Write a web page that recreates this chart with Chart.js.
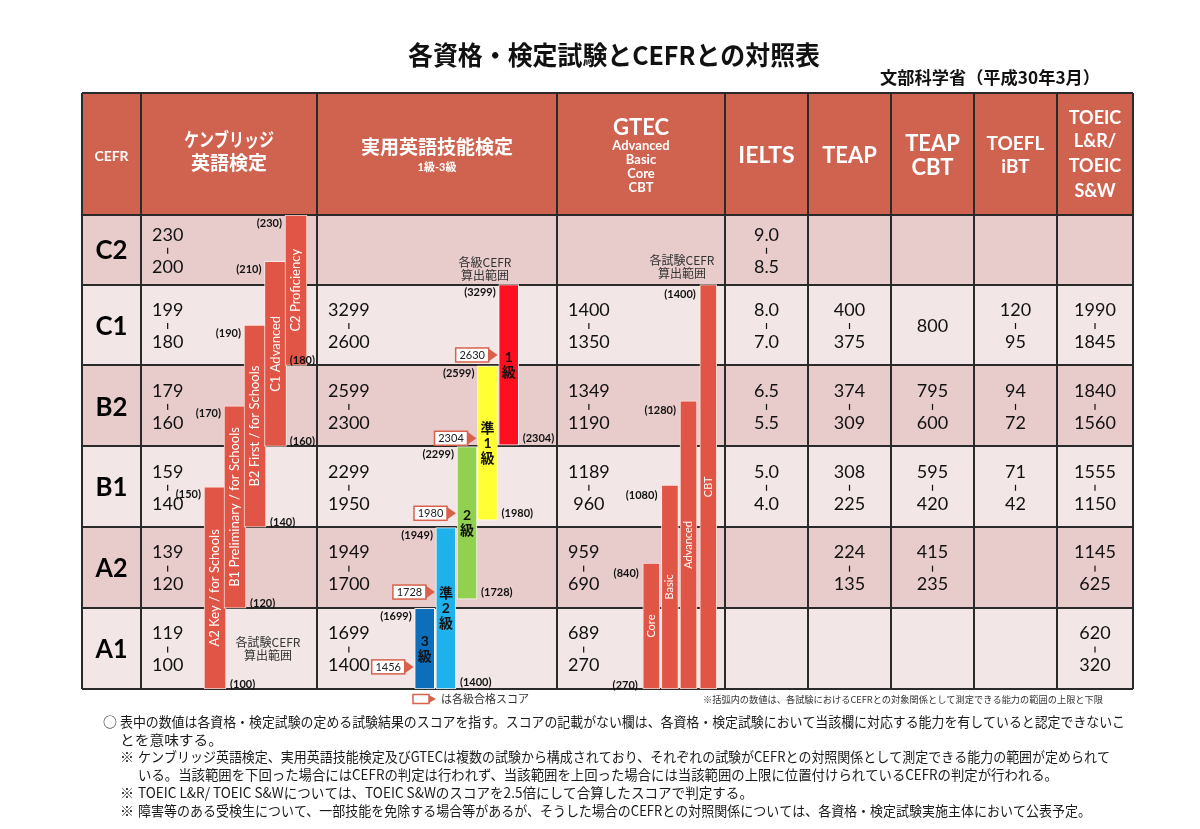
<!DOCTYPE html>
<html>
<head>
<meta charset="utf-8">
<title>各資格・検定試験とCEFRとの対照表</title>
<script src="https://cdn.jsdelivr.net/npm/chart.js"></script>
<style>
    html, body { margin: 0; padding: 0; background: #fff; }
    canvas { display: block; }
</style>
</head>
<body>
<canvas id="cefr-chart" width="1200" height="829"></canvas>
<script>
// ===== データ =====
const cefrLevels = ['C2', 'C1', 'B2', 'B1', 'A2', 'A1'];

// 各列のスコア（上から C2 → A1、null は空欄）
const cambridgeRanges = [['230', '200'], ['199', '180'], ['179', '160'], ['159', '140'], ['139', '120'], ['119', '100']];
const eikenRanges = [null, ['3299', '2600'], ['2599', '2300'], ['2299', '1950'], ['1949', '1700'], ['1699', '1400']];
const gtecRanges = [null, ['1400', '1350'], ['1349', '1190'], ['1189', '960'], ['959', '690'], ['689', '270']];
const ieltsRanges = [['9.0', '8.5'], ['8.0', '7.0'], ['6.5', '5.5'], ['5.0', '4.0'], null, null];
const teapRanges = [null, ['400', '375'], ['374', '309'], ['308', '225'], ['224', '135'], null];
const teapCbtRanges = [null, ['800'], ['795', '600'], ['595', '420'], ['415', '235'], null];
const toeflRanges = [null, ['120', '95'], ['94', '72'], ['71', '42'], null, null];
const toeicRanges = [null, ['1990', '1845'], ['1840', '1560'], ['1555', '1150'], ['1145', '625'], ['620', '320']];

// CEFR帯の下限（A1から順）、最後は最上限
const cambridgeBands = [100, 120, 140, 160, 180, 200, 230];
const eikenBands = [1400, 1700, 1950, 2300, 2600, 3299];
const gtecBands = [270, 690, 960, 1190, 1350, 1400];

// 算出範囲バー
const cambridgeTests = ['A2 Key / for Schools', 'B1 Preliminary / for Schools', 'B2 First / for Schools', 'C1 Advanced', 'C2 Proficiency'];
const cambridgeLow = [100, 120, 140, 160, 180];
const cambridgeHigh = [150, 170, 190, 210, 230];

const eikenGrades = ['3級', '準2級', '2級', '準1級', '1級'];
const eikenLow = [1400, 1400, 1728, 1980, 2304];
const eikenHigh = [1699, 1949, 2299, 2599, 3299];
const eikenPass = [1456, 1728, 1980, 2304, 2630];

const gtecTests = ['Core', 'Basic', 'Advanced', 'CBT'];
const gtecLow = [270, 270, 270, 270];
const gtecHigh = [840, 1080, 1280, 1400];

// ===== レイアウト・スタイル =====
const FONT = "Lato, 'Noto Sans CJK JP', sans-serif";
const JP = "'Noto Sans CJK JP', sans-serif";
const HEADER_TOP = 93;
const ROW_SPAN = [1, 1, 1, 1, 1, 0.86];  // A1..C2 の行の高さ（C2 は少し低い）
const COL_EDGES = [0, 59, 235, 475, 643, 726, 809, 892, 975, 1051];
const CAM_SLOTS = [133, 153, 173, 193.5, 214];
const EIKEN_SLOTS = [342.7, 363.9, 385, 405.5, 426.7];
const GTEC_SLOTS = [569.3, 587.9, 606.5, 626.3];
const HEADER_COLOR = '#cf634f';
const ROW_PINK = '#e8cbcb';
const ROW_LIGHT = '#f3e6e6';
const BAR_RED = '#e05546';
const LINE = '#2a2a2a';
const eikenColors = ['#0d6ebc', '#1fb1ec', '#92d050', '#ffff33', '#ff1020'];

const headerCells = [
    [{ t: 'CEFR', f: 'bold 14px', y: 156 }],
    [{ t: 'ケンブリッジ', f: 'bold 19px', y: 141, w: 90 }, { t: '英語検定', f: 'bold 19px', y: 164 }],
    [{ t: '実用英語技能検定', f: 'bold 19px', y: 148 }, { t: '1級-3級', f: 'bold 11px', y: 167 }],
    [{ t: 'GTEC', f: 'bold 22px', y: 128 }, { t: 'Advanced', f: 'bold 13px', y: 146 }, { t: 'Basic', f: 'bold 13px', y: 160 },
     { t: 'Core', f: 'bold 13px', y: 174 }, { t: 'CBT', f: 'bold 13px', y: 188 }],
    [{ t: 'IELTS', f: 'bold 23px', y: 156 }],
    [{ t: 'TEAP', f: 'bold 22px', y: 156 }],
    [{ t: 'TEAP', f: 'bold 22px', y: 144 }, { t: 'CBT', f: 'bold 22px', y: 168 }],
    [{ t: 'TOEFL', f: 'bold 19px', y: 144 }, { t: 'iBT', f: 'bold 19px', y: 167 }],
    [{ t: 'TOEIC', f: 'bold 18px', y: 118 }, { t: 'L&R/', f: 'bold 18px', y: 141 }, { t: 'TOEIC', f: 'bold 18px', y: 166 },
     { t: 'S&W', f: 'bold 18px', y: 191 }]
];

const columnRanges = [cambridgeRanges, eikenRanges, gtecRanges, ieltsRanges, teapRanges, teapCbtRanges, toeflRanges, toeicRanges];
const leftAlignedCols = [true, true, true, false, false, false, false, false];

const notes = [
    { mark: '○', mx: 103, x: 120, y: 722, w: 1005, t: '表中の数値は各資格・検定試験の定める試験結果のスコアを指す。スコアの記載がない欄は、各資格・検定試験において当該欄に対応する能力を有していると認定できないこ' },
    { x: 120, y: 740, w: 103, t: 'とを意味する。' },
    { mark: '※', mx: 120, x: 138, y: 757, w: 972, t: 'ケンブリッジ英語検定、実用英語技能検定及びGTECは複数の試験から構成されており、それぞれの試験がCEFRとの対照関係として測定できる能力の範囲が定められて' },
    { x: 138, y: 775, w: 920, t: 'いる。当該範囲を下回った場合にはCEFRの判定は行われず、当該範囲を上回った場合には当該範囲の上限に位置付けられているCEFRの判定が行われる。' },
    { mark: '※', mx: 120, x: 138, y: 793, w: 615, t: 'TOEIC L&R/ TOEIC S&Wについては、TOEIC S&Wのスコアを2.5倍にして合算したスコアで判定する。' },
    { mark: '※', mx: 120, x: 138, y: 811, w: 953, t: '障害等のある受検生について、一部技能を免除する場合等があるが、そうした場合のCEFRとの対照関係については、各資格・検定試験実施主体において公表予定。' }
];

// スコア → CEFR軸上の位置
function toLevel(score, bands) {
    let base = 0;
    for (let i = 0; i < bands.length - 1; i++) {
        const last = i === bands.length - 2;
        if (score < bands[i + 1] || last) {
            return base + (score - bands[i]) / (bands[i + 1] - bands[i]) * ROW_SPAN[i];
        }
        base += ROW_SPAN[i];
    }
    return base;
}

function rowBounds(r) {
    // r: 0 = C2（上）
    const li = 5 - r;
    let bottom = 0;
    for (let i = 0; i < li; i++) bottom += ROW_SPAN[i];
    return [bottom, bottom + ROW_SPAN[li]];
}

function fitText(ctx, text, x, y, width) {
    const w = ctx.measureText(text).width;
    ctx.save();
    ctx.translate(x, y);
    ctx.scale(width / w, 1);
    ctx.textAlign = 'left';
    ctx.fillText(text, 0, 0);
    ctx.restore();
}

function drawRange(ctx, vals, cx, cy) {
    if (vals.length === 1) {
        ctx.fillText(vals[0], cx, cy + 1);
        return;
    }
    ctx.fillText(vals[0], cx, cy - 15);
    ctx.fillRect(cx - 0.6, cy - 2, 1.2, 6);
    ctx.fillText(vals[1], cx, cy + 17);
}

function barBox(el) {
    const top = Math.min(el.y, el.base);
    const bottom = Math.max(el.y, el.base);
    return { left: el.x - el.width / 2, right: el.x + el.width / 2, top, bottom, cx: el.x, cy: (top + bottom) / 2 };
}

const tablePlugin = {
    id: 'cefrTable',
    beforeDatasetsDraw(chart) {
        const { ctx, scales: { x, y }, chartArea } = chart;
        const L = x.getPixelForValue(COL_EDGES[0]);
        const R = x.getPixelForValue(COL_EDGES[COL_EDGES.length - 1]);
        ctx.save();
        ctx.fillStyle = '#fff';
        ctx.fillRect(0, 0, chart.width, chart.height);

        // タイトル
        ctx.fillStyle = '#111';
        ctx.textBaseline = 'middle';
        ctx.font = 'bold 26px ' + JP;
        fitText(ctx, '各資格・検定試験とCEFRとの対照表', 408, 55, 412);
        ctx.font = 'bold 17px ' + JP;
        fitText(ctx, '文部科学省（平成30年3月）', 880, 78, 220);

        // ヘッダー
        ctx.fillStyle = HEADER_COLOR;
        ctx.fillRect(L, HEADER_TOP, R - L, chartArea.top - HEADER_TOP);

        // 行の背景
        cefrLevels.forEach((lv, r) => {
            const [b, t] = rowBounds(r);
            ctx.fillStyle = r % 2 === 0 ? ROW_PINK : ROW_LIGHT;
            const yt = y.getPixelForValue(t), yb = y.getPixelForValue(b);
            ctx.fillRect(L, yt, R - L, yb - yt);
        });

        // 罫線
        ctx.strokeStyle = LINE;
        ctx.lineWidth = 2;
        ctx.beginPath();
        for (let r = 0; r <= cefrLevels.length; r++) {
            const v = r === 0 ? rowBounds(0)[1] : rowBounds(r - 1)[0];
            const py = Math.round(y.getPixelForValue(v));
            ctx.moveTo(L, py); ctx.lineTo(R, py);
        }
        ctx.moveTo(L, HEADER_TOP); ctx.lineTo(R, HEADER_TOP);
        COL_EDGES.forEach(c => {
            const px = Math.round(x.getPixelForValue(c));
            ctx.moveTo(px, HEADER_TOP); ctx.lineTo(px, chartArea.bottom);
        });
        ctx.stroke();

        // ヘッダー文字
        ctx.fillStyle = '#fff';
        ctx.textAlign = 'center';
        headerCells.forEach((cell, i) => {
            const cx = (x.getPixelForValue(COL_EDGES[i]) + x.getPixelForValue(COL_EDGES[i + 1])) / 2;
            cell.forEach(line => {
                ctx.font = line.f + ' ' + FONT;
                if (line.w) ctx.fillText(line.t, cx, line.y, line.w);
                else ctx.fillText(line.t, cx, line.y);
            });
        });
        ctx.restore();
    },
    afterDatasetsDraw(chart) {
        const { ctx, scales: { x, y } } = chart;
        ctx.save();
        ctx.textBaseline = 'middle';

        // CEFRラベル
        const c0 = (x.getPixelForValue(COL_EDGES[0]) + x.getPixelForValue(COL_EDGES[1])) / 2;
        ctx.fillStyle = '#000';
        ctx.textAlign = 'center';
        ctx.font = 'bold 27px ' + FONT;
        cefrLevels.forEach((lv, r) => {
            const [b, t] = rowBounds(r);
            const cy = (y.getPixelForValue(b) + y.getPixelForValue(t)) / 2;
            ctx.fillText(lv, c0, cy + 1, 32);
        });

        // スコア
        ctx.font = '18px ' + FONT;
        ctx.fillStyle = '#111';
        columnRanges.forEach((ranges, ci) => {
            const left = x.getPixelForValue(COL_EDGES[ci + 1]);
            const right = x.getPixelForValue(COL_EDGES[ci + 2]);
            ranges.forEach((vals, r) => {
                if (!vals) return;
                const [b, t] = rowBounds(r);
                const cy = (y.getPixelForValue(b) + y.getPixelForValue(t)) / 2;
                let cx = (left + right) / 2;
                if (leftAlignedCols[ci]) {
                    const mw = Math.max(...vals.map(v => ctx.measureText(v).width));
                    cx = left + 11 + mw / 2;
                }
                drawRange(ctx, vals, cx, cy);
            });
        });

        // バー内の文字
        const camBars = chart.getDatasetMeta(0).data.map(barBox);
        const eikenBars = chart.getDatasetMeta(1).data.map(barBox);
        const gtecBars = chart.getDatasetMeta(2).data.map(barBox);

        ctx.fillStyle = '#fff';
        ctx.font = '13px ' + FONT;
        camBars.forEach((bb, i) => {
            ctx.save();
            ctx.translate(bb.cx, bb.cy);
            ctx.rotate(-Math.PI / 2);
            ctx.fillText(cambridgeTests[i], 0, 0);
            ctx.restore();
        });
        ctx.font = '11px ' + FONT;
        gtecBars.forEach((bb, i) => {
            ctx.save();
            ctx.translate(bb.cx, bb.cy);
            ctx.rotate(-Math.PI / 2);
            ctx.fillText(gtecTests[i], 0, 0);
            ctx.restore();
        });
        ctx.fillStyle = '#111';
        ctx.font = 'bold 14px ' + FONT;
        eikenBars.forEach((bb, i) => {
            const chars = Array.from(eikenGrades[i]);
            const y0 = bb.cy - (chars.length - 1) * 15 / 2;
            chars.forEach((ch, k) => ctx.fillText(ch, bb.cx, y0 + k * 15));
        });

        // 括弧内の上限・下限
        ctx.font = 'bold 11px ' + FONT;
        ctx.fillStyle = '#111';
        const camRight = x.getPixelForValue(COL_EDGES[2]);
        camBars.forEach((bb, i) => {
            ctx.textAlign = 'right';
            ctx.fillText('(' + cambridgeHigh[i] + ')', bb.left - 3, bb.top + 8);
            const txt = '(' + cambridgeLow[i] + ')';
            const tw = ctx.measureText(txt).width;
            ctx.textAlign = 'left';
            ctx.fillText(txt, Math.min(bb.right + 4, camRight - tw - 2), bb.bottom - 5);
        });
        eikenBars.forEach((bb, i) => {
            ctx.textAlign = 'right';
            ctx.fillText('(' + eikenHigh[i] + ')', bb.left - 3, bb.top + 8);
            if (i > 0) {
                ctx.textAlign = 'left';
                ctx.fillText('(' + eikenLow[i] + ')', bb.right + 4, bb.bottom - 7);
            }
        });
        gtecBars.forEach((bb, i) => {
            ctx.textAlign = 'right';
            ctx.fillText('(' + gtecHigh[i] + ')', bb.left - 4, bb.top + 10);
        });
        ctx.fillText('(' + gtecLow[0] + ')', gtecBars[0].left - 5, gtecBars[0].bottom - 4);

        // 合格スコア（矢印の下辺がスコア位置）
        const passMeta = chart.getDatasetMeta(3);
        passMeta.data.forEach((pt, i) => {
            const tip = eikenBars[i].left - 1;
            drawPassArrow(ctx, tip, pt.y - 7, String(eikenPass[i]), 33, 14);
        });

        // 注記
        ctx.fillStyle = '#333';
        ctx.textAlign = 'center';
        ctx.font = '12px ' + JP;
        const ann = [[268, 642, '各試験CEFR', '算出範囲'], [485, 262, '各級CEFR', '算出範囲'], [682, 260, '各試験CEFR', '算出範囲']];
        ann.forEach(a => {
            ctx.fillText(a[2], a[0], a[1]);
            ctx.fillText(a[3], a[0], a[1] + 13);
        });

        // 凡例と脚注
        drawPassArrow(ctx, 436, 699, '', 16, 9);
        ctx.fillStyle = '#333';
        ctx.textAlign = 'left';
        ctx.font = '11px ' + JP;
        ctx.fillText('は各級合格スコア', 441, 699);
        ctx.font = '9.5px ' + JP;
        fitText(ctx, '※括弧内の数値は、各試験におけるCEFRとの対象関係として測定できる能力の範囲の上限と下限', 703, 699, 400);

        ctx.fillStyle = '#1a1a1a';
        ctx.font = '14px ' + JP;
        notes.forEach(n => {
            if (n.mark) ctx.fillText(n.mark, n.mx, n.y);
            fitText(ctx, n.t, n.x, n.y, n.w);
        });
        ctx.restore();
    }
};

function drawPassArrow(ctx, tip, cy, label, boxW, h) {
    const arrowW = h === 14 ? 9 : 7;
    const bx = tip - arrowW - boxW;
    ctx.save();
    ctx.fillStyle = '#d9614c';
    ctx.beginPath();
    ctx.moveTo(tip - arrowW - 1, cy - h / 2);
    ctx.lineTo(tip, cy);
    ctx.lineTo(tip - arrowW - 1, cy + h / 2);
    ctx.closePath();
    ctx.fill();
    ctx.fillStyle = '#fff';
    ctx.strokeStyle = '#d9614c';
    ctx.lineWidth = 1.5;
    ctx.fillRect(bx, cy - h / 2, boxW, h);
    ctx.strokeRect(bx, cy - h / 2, boxW, h);
    if (label) {
        ctx.fillStyle = '#222';
        ctx.font = '11px ' + FONT;
        ctx.textAlign = 'center';
        ctx.textBaseline = 'middle';
        ctx.fillText(label, bx + boxW / 2, cy + 0.5);
    }
    ctx.restore();
}

const ctx = document.getElementById('cefr-chart').getContext('2d');
new Chart(ctx, {
    type: 'bar',
    data: {
        datasets: [
            {
                label: 'ケンブリッジ英語検定',
                data: cambridgeTests.map((t, i) => ({
                    x: CAM_SLOTS[i],
                    y: [toLevel(cambridgeLow[i], cambridgeBands), toLevel(cambridgeHigh[i], cambridgeBands)]
                })),
                backgroundColor: BAR_RED,
                borderColor: 'rgba(255,235,230,0.9)',
                borderWidth: 1,
                borderSkipped: false,
                barThickness: 22,
                grouped: false
            },
            {
                label: '実用英語技能検定',
                data: eikenGrades.map((g, i) => ({
                    x: EIKEN_SLOTS[i],
                    y: [toLevel(eikenLow[i], eikenBands), toLevel(eikenHigh[i], eikenBands)]
                })),
                backgroundColor: eikenColors,
                borderColor: 'rgba(255,255,255,0.9)',
                borderWidth: 1,
                borderSkipped: false,
                barThickness: 20,
                grouped: false
            },
            {
                label: 'GTEC',
                data: gtecTests.map((g, i) => ({
                    x: GTEC_SLOTS[i],
                    y: [toLevel(gtecLow[i], gtecBands), toLevel(gtecHigh[i], gtecBands)]
                })),
                backgroundColor: BAR_RED,
                borderColor: 'rgba(255,235,230,0.9)',
                borderWidth: 1,
                borderSkipped: false,
                barThickness: 17,
                grouped: false
            },
            {
                type: 'scatter',
                label: '各級合格スコア',
                data: eikenPass.map((p, i) => ({ x: EIKEN_SLOTS[i], y: toLevel(p, eikenBands) })),
                pointRadius: 0,
                showLine: false
            }
        ]
    },
    options: {
        responsive: false,
        animation: false,
        events: [],
        layout: { padding: { left: 82, right: 67, top: 215, bottom: 140 } },
        plugins: {
            legend: { display: false },
            tooltip: { enabled: false }
        },
        scales: {
            x: { type: 'linear', min: 0, max: 1051, display: false, offset: false },
            y: { type: 'linear', min: 0, max: 5.86, display: false }
        }
    },
    plugins: [tablePlugin]
});
</script>
</body>
</html>
